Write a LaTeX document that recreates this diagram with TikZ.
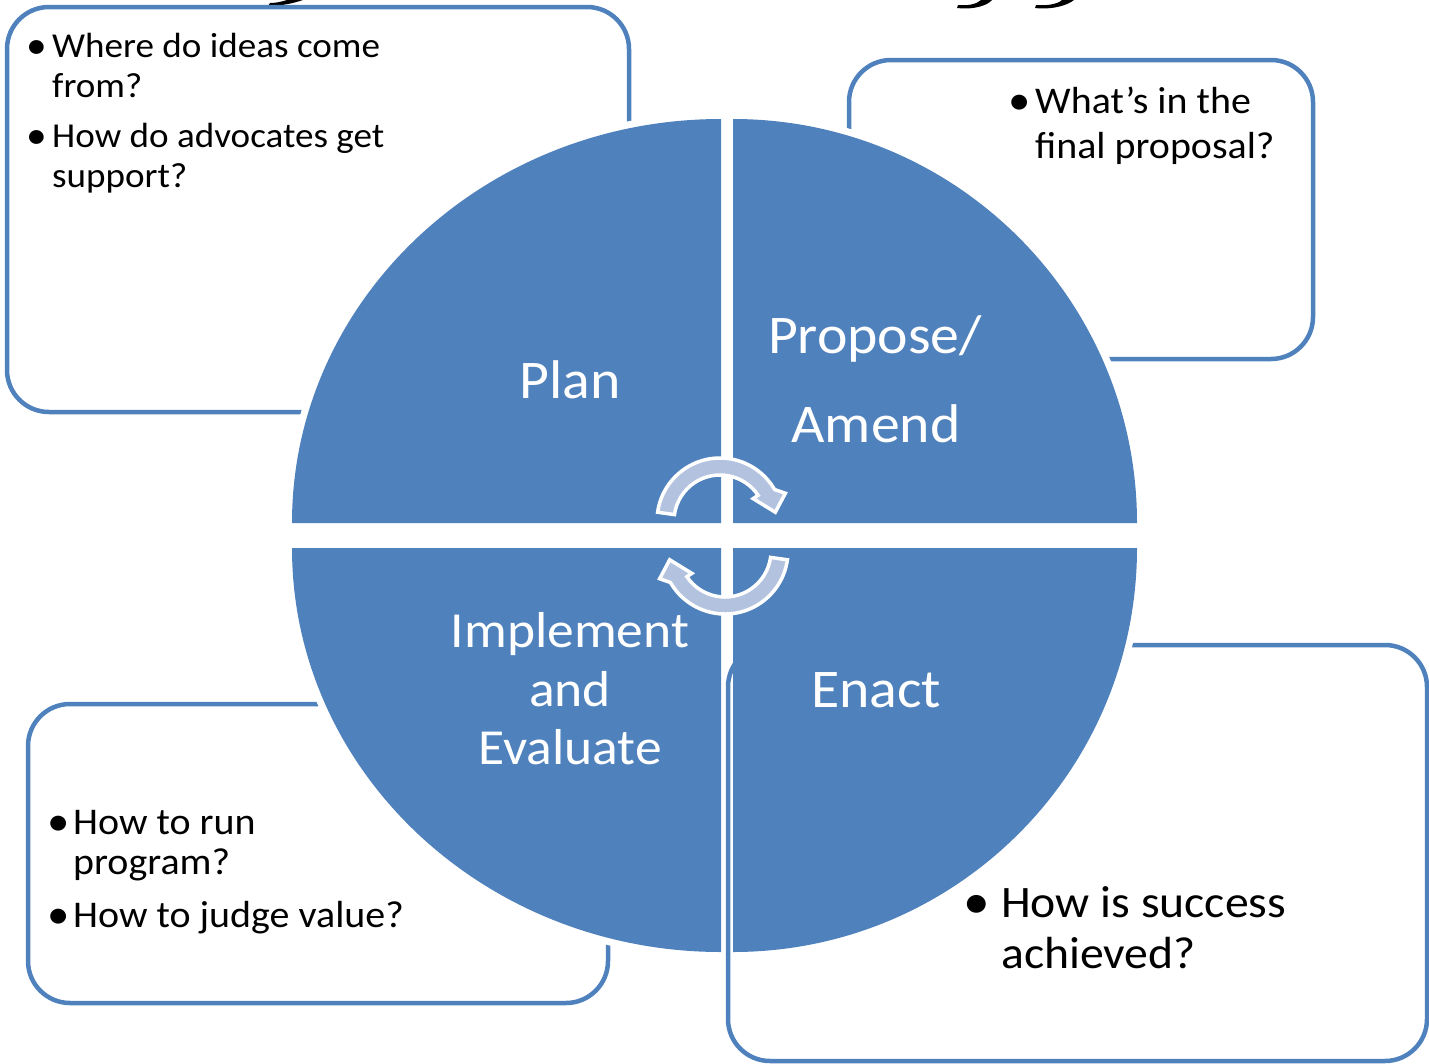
\documentclass[tikz,border=0pt]{standalone}
\usepackage{fontspec}
\setmainfont{Carlito}[FakeStretch=1.06]
\definecolor{qblue}{HTML}{4F81BD}
\definecolor{arrowfill}{HTML}{B3C2DE}
\newcommand{\btfont}{\fontsize{35}{40}\selectfont}
\newcommand{\midbtfont}{\fontsize{37.7}{43}\selectfont}
\newcommand{\bigbtfont}{\fontsize{45}{51}\selectfont}
\newcommand{\qfont}{\fontsize{54.5}{60}\selectfont}
\newcommand{\qsmallfont}{\fontsize{50.5}{57}\selectfont}
\newcommand{\bigdot}{\raisebox{-0.04em}{\scalebox{1.12}{•}}}
\begin{document}
\begin{tikzpicture}[x=1pt,y=-1pt,
  box/.style={draw=qblue, line width=4.5pt, rounded corners=42pt},
  quad/.style={fill=qblue},
  qedge/.style={draw=white, line width=14pt},
  lbl/.style={text=white, anchor=base, inner sep=0pt},
  btxt/.style={anchor=base west, inner sep=0pt, font=\btfont},
  bul/.style={anchor=base, inner sep=0pt, font=\btfont},
  mbtxt/.style={anchor=base west, inner sep=0pt, font=\midbtfont},
  mbul/.style={anchor=base, inner sep=0pt, font=\midbtfont},
  bbtxt/.style={anchor=base west, inner sep=0pt, font=\bigbtfont},
  bbul/.style={anchor=base, inner sep=0pt, font=\bigbtfont},
  arrowband/.style={fill=arrowfill, draw=white, line width=3.5pt, line join=miter}]
\useasboundingbox (0,0) rectangle (1429,1063);

% cut-off title fragments at the top edge
\fill (268,6) .. controls (282,6) and (294,3) .. (303,0) -- (287,0) .. controls (281,2) and (275,3) .. (270,3) -- cycle;
\fill (957,8) .. controls (975,10) and (988,5) .. (992,0) -- (981,0) .. controls (977,4) and (968,6) .. (958,5) -- cycle;
\fill (1035,8) .. controls (1053,10) and (1068,5) .. (1074,0) -- (1062,0) .. controls (1058,4) and (1047,6) .. (1036,5) -- cycle;

% question boxes (behind the circle)
\draw[box] (7,7) rectangle (629,412);
\draw[box] (849,60) rectangle (1313,359);
\draw[box] (28,704) rectangle (608,1003);
\draw[box] (728,645) rectangle (1427,1061);

% white halo along the arcs of the quadrants
\draw[qedge] (292,523) arc[start angle=180, end angle=270, x radius=429, y radius=404];
\draw[qedge] (733,119) arc[start angle=270, end angle=360, radius=404];
\draw[qedge] (721,952) arc[start angle=90, end angle=180, x radius=429, y radius=404];
\draw[qedge] (1137,548) arc[start angle=0, end angle=90, radius=404];

% quadrants
\fill[quad] (721,523) -- (292,523) arc[start angle=180, end angle=270, x radius=429, y radius=404] -- cycle;
\fill[quad] (733,523) -- (733,119) arc[start angle=270, end angle=360, radius=404] -- cycle;
\fill[quad] (721,548) -- (721,952) arc[start angle=90, end angle=180, x radius=429, y radius=404] -- cycle;
\fill[quad] (733,548) -- (1137,548) arc[start angle=0, end angle=90, radius=404] -- cycle;

% circular arrows
\path[arrowband] ([shift={(720,521)}]188:63) arc[start angle=188, end angle=330, radius=63]
  -- ([shift={(720,521)}]337:71) -- ([shift={(720,521)}]351:56)
  -- ([shift={(720,521)}]326:40) -- ([shift={(720,521)}]326:46)
  arc[start angle=326, end angle=188, radius=46] -- cycle;
\begin{scope}[rotate around={180:(722.5,536)}]
\path[arrowband] ([shift={(720,521)}]188:63) arc[start angle=188, end angle=330, radius=63]
  -- ([shift={(720,521)}]337:71) -- ([shift={(720,521)}]351:56)
  -- ([shift={(720,521)}]326:40) -- ([shift={(720,521)}]326:46)
  arc[start angle=326, end angle=188, radius=46] -- cycle;
\end{scope}

% quadrant labels
\node[lbl, font=\qfont] (plan) at (570,398) {Plan};
\node[lbl, font=\qfont] (prop) at (875,353) {Propose/};
\node[lbl, font=\qfont] (amend) at (876,442) {Amend};
\node[lbl, font=\qsmallfont] (impl) at (570,647) {Implement};
\node[lbl, font=\qsmallfont] (and) at (570,706) {and};
\node[lbl, font=\qsmallfont] (eval) at (570,764) {Evaluate};
\node[lbl, font=\qfont] (enact) at (876,707) {Enact};

% box 1 text
\node[bul] (b1a) at (37,57) {\bigdot};
\node[btxt] (t1a) at (52,57) {Where do ideas come};
\node[btxt] (t1b) at (52,97) {from?};
\node[bul] (b1b) at (37,147) {\bigdot};
\node[btxt] (t1c) at (52,147) {How do advocates get};
\node[btxt] (t1d) at (52,187) {support?};

% box 2 text
\node[mbul] (b2a) at (1020,113) {\bigdot};
\node[mbtxt] (t2a) at (1035,113) {What’s in the};
\node[mbtxt] (t2b) at (1035,158) {final proposal?};

% box 3 text
\node[mbul] (b3a) at (59,834) {\bigdot};
\node[mbtxt] (t3a) at (73,834) {How to run};
\node[mbtxt] (t3b) at (73,874) {program?};
\node[mbul] (b3b) at (59,927) {\bigdot};
\node[mbtxt] (t3c) at (73,927) {How to judge value?};

% box 4 text
\node[bbul] (b4a) at (977,917) {\bigdot};
\node[bbtxt] (t4a) at (1001,917) {How is success};
\node[bbtxt] (t4b) at (1001,968) {achieved?};
\end{tikzpicture}
\end{document}
